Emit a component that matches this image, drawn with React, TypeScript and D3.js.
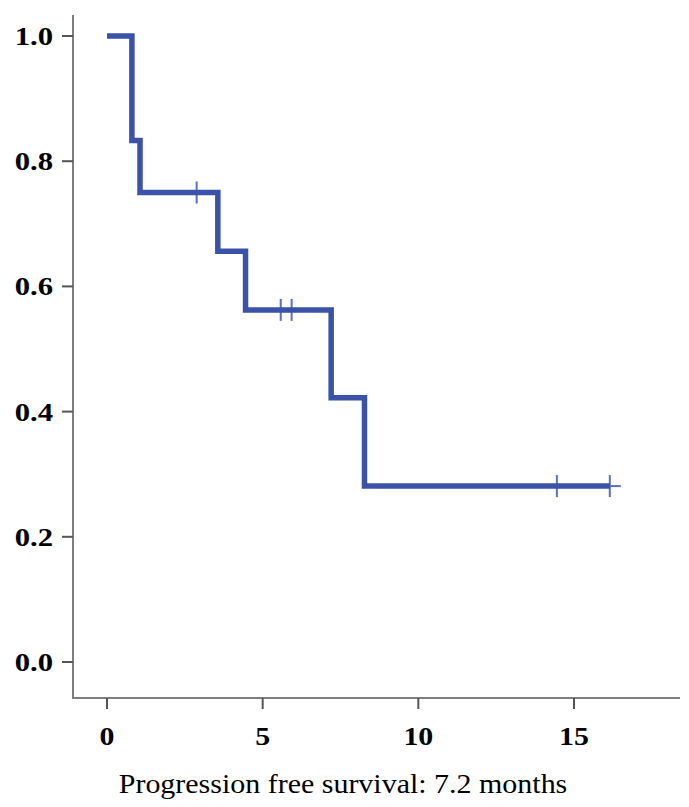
import * as d3 from 'd3';
import React, {useEffect, useRef} from 'react';

// Kaplan-Meier step data
const eventTimes = [0, 0.8, 1.06, 3.56, 4.45, 7.2, 8.27];
const survival = [1.0, 0.833, 0.75, 0.656, 0.5625, 0.422, 0.281];
const lastTime = 16.15;
const censorTimes = [2.88, 5.58, 5.93, 14.45, 16.15];
const xTicks = [0, 5, 10, 15];
const yTicks = [0, 0.2, 0.4, 0.6, 0.8, 1.0];
const xLabel = 'Progression free survival: 7.2 months';

export default function App() {
    const ref = useRef(null);
    const width = 689;
    const height = 807;

    useEffect(() => {
        drawChart();
    }, []);

    function drawChart() {
        const svg = d3.select(ref.current);
        svg.selectAll('*').remove();

        const xScale = d3.scaleLinear().domain([0, 15]).range([107, 574]);
        const yScale = d3.scaleLinear().domain([0, 1]).range([662, 36]);
        const axisX = 73;
        const axisY = 698;
        const axisColor = '#7f7f7f';
        const font = '"Liberation Serif", "Times New Roman", serif';

        // axes lines
        svg.append('line')
            .attr('x1', axisX).attr('x2', axisX)
            .attr('y1', 15).attr('y2', axisY)
            .attr('stroke', axisColor).attr('stroke-width', 2);
        svg.append('line')
            .attr('x1', axisX - 1).attr('x2', 680)
            .attr('y1', axisY).attr('y2', axisY)
            .attr('stroke', axisColor).attr('stroke-width', 2);

        // y ticks
        const yg = svg.append('g');
        yg.selectAll('line').data(yTicks).enter().append('line')
            .attr('x1', axisX - 11).attr('x2', axisX)
            .attr('y1', d => yScale(d)).attr('y2', d => yScale(d))
            .attr('stroke', '#555').attr('stroke-width', 2);
        yg.selectAll('text').data(yTicks).enter().append('text')
            .attr('transform', d => `translate(53,${yScale(d) + 9}) scale(1.18,1)`)
            .attr('text-anchor', 'end')
            .attr('font-family', font)
            .attr('font-weight', 'bold')
            .attr('font-size', 26)
            .attr('fill', '#000')
            .text(d => d3.format('.1f')(d));

        // x ticks
        const xg = svg.append('g');
        xg.selectAll('line').data(xTicks).enter().append('line')
            .attr('x1', d => xScale(d)).attr('x2', d => xScale(d))
            .attr('y1', axisY).attr('y2', axisY + 11)
            .attr('stroke', '#555').attr('stroke-width', 2);
        xg.selectAll('text').data(xTicks).enter().append('text')
            .attr('transform', d => `translate(${xScale(d)},745) scale(1.15,1)`)
            .attr('text-anchor', 'middle')
            .attr('font-family', font)
            .attr('font-weight', 'bold')
            .attr('font-size', 26)
            .attr('fill', '#000')
            .text(d => d);

        // axis title
        svg.append('text')
            .attr('transform', 'translate(343,793) scale(1.11,1)')
            .attr('text-anchor', 'middle')
            .attr('font-family', font)
            .attr('font-size', 27)
            .attr('fill', '#000')
            .text(xLabel);

        // censor marks (+), drawn under the curve
        const survAt = t => {
            let s = 1;
            eventTimes.forEach((et, i) => { if (et <= t) s = survival[i]; });
            return s;
        };
        const cg = svg.append('g');
        censorTimes.forEach(t => {
            const cx = xScale(t);
            const cy = yScale(survAt(t));
            cg.append('line')
                .attr('x1', cx).attr('x2', cx)
                .attr('y1', cy - 11).attr('y2', cy + 11)
                .attr('stroke', '#5a70b8').attr('stroke-width', 2);
            cg.append('line')
                .attr('x1', cx - 11).attr('x2', cx + 11)
                .attr('y1', cy).attr('y2', cy)
                .attr('stroke', '#5a70b8').attr('stroke-width', 2);
        });

        // survival curve
        const pts = eventTimes.map((t, i) => [t, survival[i]]);
        pts.push([lastTime, survival[survival.length - 1]]);
        const line = d3.line()
            .x(d => xScale(d[0]))
            .y(d => yScale(d[1]))
            .curve(d3.curveStepAfter);
        svg.append('path')
            .attr('d', line(pts))
            .attr('fill', 'none')
            .attr('stroke', '#3a52a8')
            .attr('stroke-width', 5.5)
            .attr('stroke-linejoin', 'miter')
            .attr('stroke-linecap', 'butt');
    }

    return <svg ref={ref} width={width} height={height}
        style={{position: 'absolute', left: 0, top: 0, background: '#fff'}} />;
}
